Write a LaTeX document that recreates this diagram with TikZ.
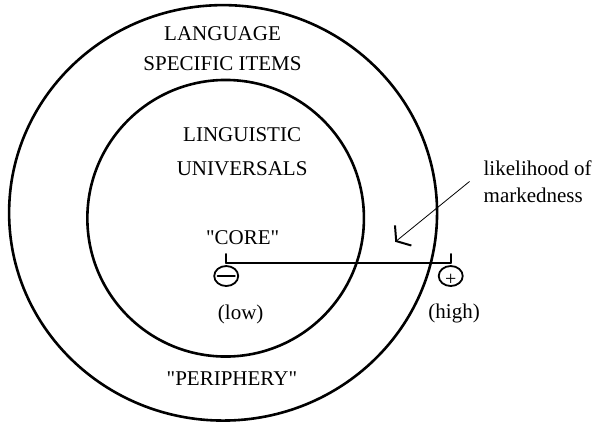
\documentclass[tikz,border=0pt]{standalone}
\usepackage{fontspec}
\setmainfont{Liberation Serif}[Ligatures=TeXOff]
\usetikzlibrary{arrows.meta,shapes.geometric}

\begin{document}
\begin{tikzpicture}[font=\fontsize{21}{30}\selectfont, line cap=round]
  \useasboundingbox (-7.84,7.48) rectangle (13.07,-7.56);
  \draw[line width=2.6pt] (0,0) ellipse (7.52 and 7.30);
  \draw[line width=2.6pt] (0.09,-0.19) circle (4.86);
  \node[align=center] (lang) at (-0.02,5.78) {LANGUAGE\\SPECIFIC ITEMS};
  \node[align=center, font=\fontsize{21}{34}\selectfont] (univ) at (0.67,2.14) {LINGUISTIC\\UNIVERSALS};
  \node (core) at (0.69,-0.87) {"CORE"};
  \node (peri) at (0.31,-5.84) {"PERIPHERY"};
  \node[ellipse, draw, line width=1.8pt, minimum width=24pt, minimum height=20pt, inner sep=0, outer sep=0] (lo) at (0.11,-2.22) {};
  \node[ellipse, draw, line width=1.8pt, minimum width=24pt, minimum height=20pt, inner sep=0, outer sep=0] (hi) at (8.00,-2.22) {};
  \draw[line width=2.2pt] ([xshift=3.5pt]lo.west) -- ([xshift=-3.5pt]lo.east);
  \node[inner sep=0, font=\fontsize{20}{20}\selectfont] (plus) at ([yshift=-4pt]hi.center) {+};
  \draw[line width=2pt] ([yshift=3pt]lo.north) -- ([yshift=3pt]hi.north);
  \foreach \n in {lo,hi} \draw[line width=1.6pt] ([yshift=3pt]\n.north) -- ++(0,0.32);
  \node (low) at (0.62,-3.56) {(low)};
  \node (high) at (8.12,-3.52) {(high)};
  \node[align=left, anchor=west, inner sep=0, font=\fontsize{21}{26.7}\selectfont] (mark) at (9.15,1.10) {likelihood of\\markedness};
  \coordinate (tip) at (6.05,-1.02);
  \draw[line width=0.8pt, -{Straight Barb[length=9pt,width=26pt,line width=2pt]}] ([xshift=-14pt]mark.west) -- (tip);
\end{tikzpicture}
\end{document}
